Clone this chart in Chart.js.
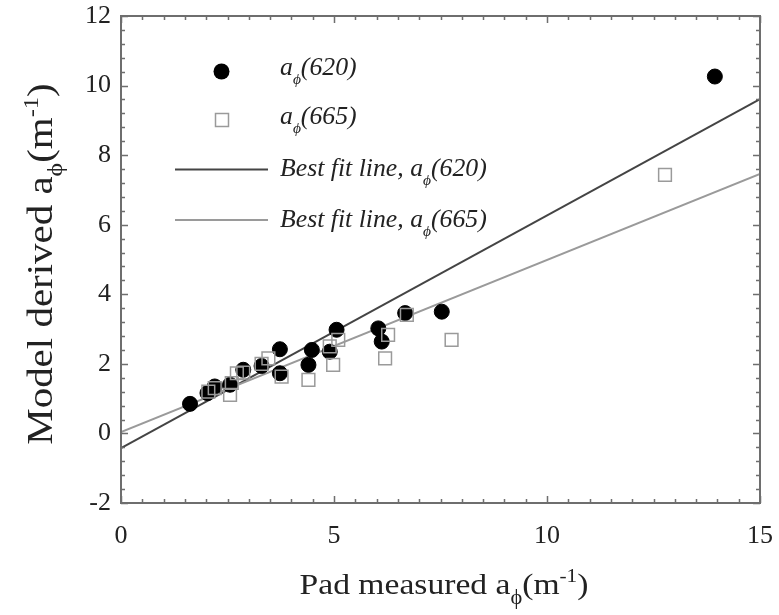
<!DOCTYPE html>
<html>
<head>
<meta charset="utf-8">
<script src="https://cdn.jsdelivr.net/npm/chart.js@4/dist/chart.umd.min.js"></script>
<style>
  html, body { margin: 0; padding: 0; background: #fff; }
  #wrap { width: 779px; height: 615px; }
</style>
</head>
<body>
<div id="wrap"><canvas id="chart" width="779" height="615"></canvas></div>
<script>
// measured a_phi(620) vs model derived
const x620 = [1.62, 2.03, 2.2, 2.56, 2.87, 3.3, 3.73, 3.73, 4.4, 4.48, 4.9, 5.06, 6.04, 6.12, 6.67, 7.53, 13.94];
const y620 = [0.85, 1.16, 1.35, 1.4, 1.83, 1.94, 2.42, 1.73, 1.97, 2.4, 2.35, 2.98, 3.02, 2.64, 3.46, 3.5, 10.26];

// measured a_phi(665) vs model derived
const x665 = [2.05, 2.2, 2.56, 2.6, 2.72, 2.87, 3.3, 3.46, 3.77, 4.4, 4.9, 4.98, 5.1, 6.2, 6.27, 6.71, 7.76, 12.77];
const y665 = [1.2, 1.3, 1.11, 1.45, 1.73, 1.75, 2.0, 2.16, 1.63, 1.54, 2.5, 1.97, 2.69, 2.16, 2.83, 3.41, 2.69, 7.43];

// best fit line ends, read at x = 0 and x = 15
const fitX = [0, 15];
const fit620 = [-0.42, 9.61];
const fit665 = [0.04, 7.46];

const xTicks = [0, 5, 10, 15];
const yTicks = [-2, 0, 2, 4, 6, 8, 10, 12];

const SERIF = '"Liberation Serif", "DejaVu Serif", serif';
const DARK = '#444';
const LIGHT = '#9a9a9a';
const FRAME = '#6e6e6e';

const pts = (xs, ys) => xs.map((x, i) => ({ x: x, y: ys[i] }));

// draw runs of text with sub/superscripts, sx stretches along the text
function drawRuns(ctx, runs, x, y, align, sx) {
  sx = sx || 1;
  let total = 0;
  runs.forEach(r => { ctx.font = r.font; r.w = ctx.measureText(r.t).width; total += r.w; });
  ctx.save();
  ctx.translate(x, y);
  ctx.scale(sx, 1);
  let cx = align === 'center' ? -total / 2 : 0;
  ctx.textAlign = 'left';
  ctx.textBaseline = 'alphabetic';
  runs.forEach(r => {
    ctx.font = r.font;
    ctx.fillText(r.t, cx, r.dy || 0);
    cx += r.w;
  });
  ctx.restore();
}

const frameTicks = {
  id: 'frameTicks',
  afterDatasetsDraw(chart) {
    const { ctx, chartArea: a, scales } = chart;
    const xs = scales.x, ys = scales.y;
    ctx.save();
    ctx.strokeStyle = FRAME;
    ctx.lineWidth = 1.5;
    ctx.beginPath();
    for (let k = 0; k <= 30; k++) {
      const px = Math.round(xs.getPixelForValue(k * 0.5)) + 0.5;
      const len = k % 10 === 0 ? 7 : 4;
      ctx.moveTo(px, a.bottom); ctx.lineTo(px, a.bottom - len);
      ctx.moveTo(px, a.top); ctx.lineTo(px, a.top + len);
    }
    for (let k = 0; k <= 35; k++) {
      const py = Math.round(ys.getPixelForValue(-2 + k * 0.4)) + 0.5;
      const len = k % 5 === 0 ? 7 : 4;
      ctx.moveTo(a.left, py); ctx.lineTo(a.left + len, py);
      ctx.moveTo(a.right, py); ctx.lineTo(a.right - len, py);
    }
    ctx.stroke();
    ctx.lineWidth = 2;
    ctx.strokeRect(a.left, a.top, a.right - a.left, a.bottom - a.top);
    ctx.restore();
  },
  afterDraw(chart) {
    const { ctx } = chart;
    ctx.save();
    ctx.fillStyle = '#222';
    // x axis title
    drawRuns(ctx, [
      { t: 'Pad measured a', font: '30px ' + SERIF },
      { t: 'ϕ', font: '20px ' + SERIF, dy: 10 },
      { t: '(m', font: '30px ' + SERIF },
      { t: '-1', font: '19px ' + SERIF, dy: -12 },
      { t: ')', font: '30px ' + SERIF }
    ], 444, 594, 'center', 1.12);
    // y axis title
    ctx.save();
    ctx.translate(52, 264);
    ctx.rotate(-Math.PI / 2);
    drawRuns(ctx, [
      { t: 'Model derived a', font: '35px ' + SERIF },
      { t: 'ϕ', font: '22px ' + SERIF, dy: 10 },
      { t: '(m', font: '35px ' + SERIF },
      { t: '-1', font: '21px ' + SERIF, dy: -14 },
      { t: ')', font: '35px ' + SERIF }
    ], 0, 0, 'center', 1.17);
    ctx.restore();

    // legend
    const it = 'italic 25px ' + SERIF;
    const sub = 'italic 15px ' + SERIF;
    ctx.fillStyle = '#000';
    ctx.beginPath();
    ctx.arc(221.5, 71.5, 8, 0, Math.PI * 2);
    ctx.fill();
    ctx.strokeStyle = LIGHT;
    ctx.lineWidth = 1.5;
    ctx.strokeRect(215.5, 113.5, 13, 13);
    ctx.lineWidth = 2;
    ctx.strokeStyle = DARK;
    ctx.beginPath(); ctx.moveTo(175, 169.5); ctx.lineTo(268, 169.5); ctx.stroke();
    ctx.strokeStyle = LIGHT;
    ctx.beginPath(); ctx.moveTo(175, 220); ctx.lineTo(268, 220); ctx.stroke();
    ctx.fillStyle = '#222';
    const labels = [['a', '(620)', 75], ['a', '(665)', 124], ['Best fit line, a', '(620)', 176], ['Best fit line, a', '(665)', 227]];
    labels.forEach(l => {
      drawRuns(ctx, [
        { t: l[0], font: it },
        { t: 'ϕ', font: sub, dy: 9 },
        { t: l[1], font: it }
      ], 280, l[2], 'left', 1.03);
    });
    ctx.restore();
  }
};

new Chart(document.getElementById('chart'), {
  type: 'scatter',
  data: {
    datasets: [
      {
        label: 'Best fit line, a(620)', type: 'line', data: pts(fitX, fit620),
        borderColor: DARK, borderWidth: 2, pointRadius: 0, fill: false, order: 4
      },
      {
        label: 'Best fit line, a(665)', type: 'line', data: pts(fitX, fit665),
        borderColor: LIGHT, borderWidth: 2, pointRadius: 0, fill: false, order: 3
      },
      {
        label: 'a(620)', data: pts(x620, y620),
        pointStyle: 'circle', pointRadius: 7.5, backgroundColor: '#000', borderColor: '#000', borderWidth: 1, order: 2
      },
      {
        label: 'a(665)', data: pts(x665, y665),
        pointStyle: 'rect', pointRadius: 9, backgroundColor: 'rgba(255,255,255,0)', borderColor: LIGHT, borderWidth: 1.5, order: 1
      }
    ]
  },
  options: {
    responsive: false,
    animation: false,
    layout: { padding: { left: 0, right: 19, top: 16, bottom: 0 } },
    plugins: { legend: { display: false }, tooltip: { enabled: false } },
    scales: {
      x: {
        type: 'linear', min: 0, max: 15,
        grid: { display: false, drawTicks: false }, border: { display: false },
        afterBuildTicks: s => { s.ticks = xTicks.map(v => ({ value: v })); },
        ticks: { color: '#222', font: { family: SERIF, size: 26 }, padding: 18, maxRotation: 0 },
        afterFit: s => { s.height = 112; s.paddingLeft = 0; s.paddingRight = 0; }
      },
      y: {
        type: 'linear', min: -2, max: 12,
        grid: { display: false, drawTicks: false }, border: { display: false },
        afterBuildTicks: s => { s.ticks = yTicks.map(v => ({ value: v })); },
        ticks: { color: '#222', font: { family: SERIF, size: 26 }, padding: 10 },
        afterFit: s => { s.width = 121; s.paddingTop = 0; s.paddingBottom = 0; }
      }
    }
  },
  plugins: [frameTicks]
});
</script>
</body>
</html>
